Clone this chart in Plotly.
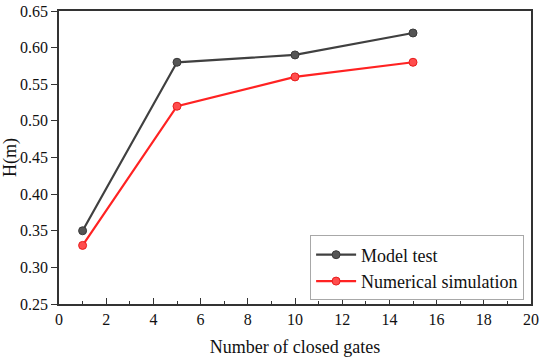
import plotly.graph_objects as go

gates = [1, 5, 10, 15]
model_test = [0.35, 0.58, 0.59, 0.62]
numerical_sim = [0.33, 0.52, 0.56, 0.58]
x_ticks = [0, 2, 4, 6, 8, 10, 12, 14, 16, 18, 20]
y_ticks = [0.25, 0.30, 0.35, 0.40, 0.45, 0.50, 0.55, 0.60, 0.65]

FONT = "Times New Roman, Liberation Serif, serif"

fig = go.Figure()
fig.add_trace(go.Scatter(
    x=gates, y=model_test, name="Model test", mode="lines+markers",
    line=dict(color="#404040", width=2.2),
    marker=dict(size=8, color="#555555", line=dict(color="#3a3a3a", width=1)),
))
fig.add_trace(go.Scatter(
    x=gates, y=numerical_sim, name="Numerical simulation", mode="lines+markers",
    line=dict(color="#ff2222", width=2.2),
    marker=dict(size=8, color="#ff4d4d", line=dict(color="#e81c1c", width=1)),
))

fig.update_layout(
    width=550, height=359,
    margin=dict(l=59, r=19, t=11, b=55, autoexpand=False),
    paper_bgcolor="white", plot_bgcolor="white",
    font=dict(family=FONT, size=16, color="#111111"),
    showlegend=True,
    legend=dict(
        x=0.532, y=0.012, xanchor="left", yanchor="bottom",
        bgcolor="white", bordercolor="#a8a8a8", borderwidth=1,
        font=dict(family=FONT, size=18, color="#111111"),
        tracegroupgap=0, itemwidth=40,
    ),
)
fig.update_xaxes(
    range=[0, 20], tickvals=x_ticks, ticktext=[str(v) for v in x_ticks],
    showgrid=False, zeroline=False, automargin=False,
    showline=True, linecolor="#333333", linewidth=1.5, mirror=True,
    ticks="inside", ticklen=6, tickwidth=1.3, tickcolor="#333333",
    minor=dict(dtick=1, ticks="inside", ticklen=3, tickwidth=1.2, tickcolor="#333333"),
    tickfont=dict(family=FONT, size=16, color="#111111"),
    title=dict(text="Number of closed gates", font=dict(family=FONT, size=18, color="#111111"), standoff=13),
)
fig.update_yaxes(
    range=[0.25, 0.65], tickvals=y_ticks, ticktext=[f"{v:.2f}" for v in y_ticks],
    showgrid=False, zeroline=False, automargin=False,
    showline=True, linecolor="#333333", linewidth=1.5, mirror=True,
    ticks="outside", ticklen=6, tickwidth=1.3, tickcolor="#333333",
    tickfont=dict(family=FONT, size=16, color="#111111"),
    title=dict(text="H(m)", font=dict(family=FONT, size=18, color="#111111"), standoff=2),
)

fig.write_html(
    "out.html",
    config={"displayModeBar": False},
    post_script="document.body.style.margin='0px';document.body.style.padding='0px';",
)
